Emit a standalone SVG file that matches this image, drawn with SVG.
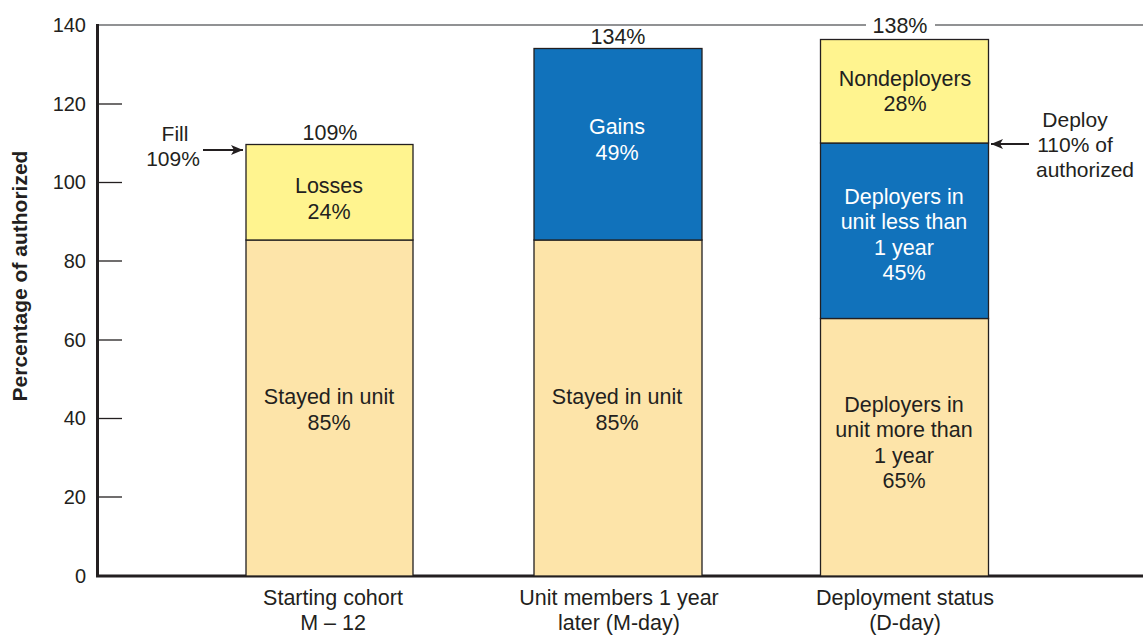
<svg xmlns="http://www.w3.org/2000/svg" width="1143" height="635" viewBox="0 0 1143 635">
<style>
text{font-family:"Liberation Sans",Arial,sans-serif;font-size:21.5px;fill:#231f20;text-anchor:middle}
.w{fill:#ffffff}
.tick{font-size:20px;text-anchor:end}
.note{font-size:21px}
.tan{fill:#fde4a9;stroke:#231f20;stroke-width:1.3}
.yel{fill:#fff48f;stroke:#231f20;stroke-width:1.3}
.blu{fill:#1172bb;stroke:#231f20;stroke-width:1.3}
.tk{stroke:#231f20;stroke-width:1.3}
</style>
<defs>
<marker id="ah" viewBox="0 0 12 12" refX="12" refY="6" markerWidth="12" markerHeight="12" markerUnits="userSpaceOnUse" orient="auto">
<path d="M0,1 L12,6 L0,11 L3,6 Z" fill="#231f20"/>
</marker>
</defs>
<rect width="1143" height="635" fill="#ffffff"/>
<g id="axes">
<line x1="97" y1="25" x2="866" y2="25" stroke="#6d6e71" stroke-width="1.5"/>
<line x1="935" y1="25" x2="1143" y2="25" stroke="#6d6e71" stroke-width="1.5"/>
<line x1="97.5" y1="24" x2="97.5" y2="577" stroke="#231f20" stroke-width="3"/>
<line x1="96" y1="576" x2="1143" y2="576" stroke="#231f20" stroke-width="3"/>
<line class="tk" x1="99" y1="497" x2="122" y2="497"/>
<line class="tk" x1="99" y1="418.5" x2="122" y2="418.5"/>
<line class="tk" x1="99" y1="340" x2="122" y2="340"/>
<line class="tk" x1="99" y1="261" x2="122" y2="261"/>
<line class="tk" x1="99" y1="182.5" x2="122" y2="182.5"/>
<line class="tk" x1="99" y1="104" x2="122" y2="104"/>
<text class="tick" x="86" y="583">0</text>
<text class="tick" x="86" y="504">20</text>
<text class="tick" x="86" y="425">40</text>
<text class="tick" x="86" y="347">60</text>
<text class="tick" x="86" y="268">80</text>
<text class="tick" x="86" y="189">100</text>
<text class="tick" x="86" y="111">120</text>
<text class="tick" x="86" y="32">140</text>
<text x="0" y="0" transform="translate(27,276) rotate(-90)" style="font-weight:bold;font-size:21px">Percentage of authorized</text>
<text x="333" y="605">Starting cohort</text>
<text x="333" y="630">M – 12</text>
<text x="619" y="605">Unit members 1 year</text>
<text x="619" y="630">later (M-day)</text>
<text x="905" y="605">Deployment status</text>
<text x="905" y="630">(D-day)</text>
</g>
<g id="bar1">
<rect class="tan" x="246" y="240" width="167" height="336"/>
<rect class="yel" x="246" y="144.5" width="167" height="95.5"/>
<text x="329" y="193">Losses</text>
<text x="329" y="219">24%</text>
<text x="329" y="404">Stayed in unit</text>
<text x="329" y="430">85%</text>
<text x="330" y="140">109%</text>
</g>
<g id="bar2">
<rect class="tan" x="534" y="240" width="168" height="336"/>
<rect class="blu" x="534" y="48.5" width="168" height="191.5"/>
<text class="w" x="617" y="134">Gains</text>
<text class="w" x="617" y="160">49%</text>
<text x="617" y="404">Stayed in unit</text>
<text x="617" y="430">85%</text>
<text x="618" y="44">134%</text>
</g>
<g id="bar3">
<rect class="tan" x="820.5" y="318.5" width="168" height="257.5"/>
<rect class="blu" x="820.5" y="143" width="168" height="175.5"/>
<rect class="yel" x="820.5" y="39.5" width="168" height="103.5"/>
<text x="905" y="86">Nondeployers</text>
<text x="905" y="111">28%</text>
<text class="w" x="904" y="204">Deployers in</text>
<text class="w" x="904" y="229">unit less than</text>
<text class="w" x="904" y="255">1 year</text>
<text class="w" x="904" y="280">45%</text>
<text x="904" y="412">Deployers in</text>
<text x="904" y="437">unit more than</text>
<text x="904" y="463">1 year</text>
<text x="904" y="488">65%</text>
<text x="900" y="33">138%</text>
</g>
<g id="fill-note">
<text class="note" x="175" y="141">Fill</text>
<text class="note" x="173" y="166">109%</text>
</g>
<g id="deploy-note">
<text class="note" x="1075" y="127">Deploy</text>
<text class="note" x="1075" y="152">110% of</text>
<text class="note" x="1085" y="177">authorized</text>
</g>
<g id="connectors">
<line x1="203" y1="150" x2="243" y2="150" stroke="#231f20" stroke-width="2" marker-end="url(#ah)"/>
<line x1="1029" y1="144" x2="991" y2="144" stroke="#231f20" stroke-width="2" marker-end="url(#ah)"/>
</g>
</svg>
